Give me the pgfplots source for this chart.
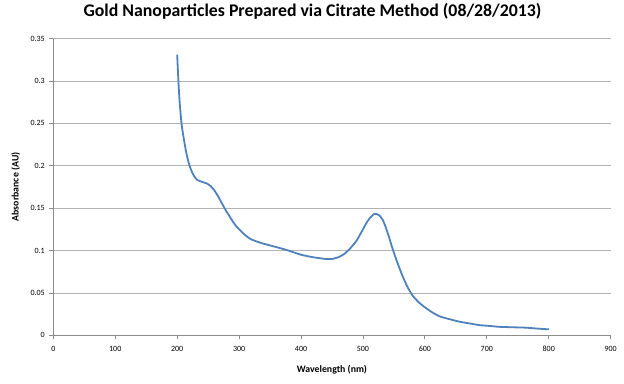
\documentclass[border=0pt]{standalone}
\usepackage{fontspec}
\setmainfont{Carlito}
\usepackage{pgfplots}
\pgfplotsset{compat=1.18}
\definecolor{linecol}{RGB}{79,129,189}
\definecolor{gridcol}{RGB}{178,178,178}
\definecolor{axiscol}{RGB}{140,140,140}
\begin{document}
\begin{tikzpicture}[x=1pt,y=1pt]
\path[use as bounding box] (-53.3,-47.7) rectangle (570.7,335.3);
\begin{axis}[
  at={(0,0)}, anchor=origin,
  scale only axis, width=557.4pt, height=296.8pt,
  xmin=0, xmax=900, ymin=0, ymax=0.35,
  xtick={0,100,...,900},
  ytick={0,0.05,0.1,0.15,0.2,0.25,0.3,0.35},
  yticklabels={0,0.05,0.1,0.15,0.2,0.25,0.3,0.35},
  axis lines*=left,
  axis line style={axiscol, line width=0.8pt, -},
  ymajorgrids, grid style={gridcol, line width=0.7pt},
  tick align=outside, major tick length=4pt,
  tick style={axiscol, line width=0.8pt},
  tick label style={font=\fontsize{8}{9.6}\selectfont},
  xticklabel style={yshift=-3pt},
  yticklabel style={xshift=-1pt},
  /pgf/number format/assume math mode=true,
  scaled ticks=false,
  xlabel={\bfseries Wavelength (nm)},
  ylabel={\bfseries Absorbance (AU)},
  label style={font=\fontsize{9.8}{11}\selectfont},
  xlabel style={at={(axis description cs:0.5,-0.1146)}, anchor=center},
  ylabel style={at={(axis description cs:-0.0673,0.5)}, anchor=center},
  title={\bfseries Gold Nanoparticles Prepared via Citrate Method (08/28/2013)},
  title style={font=\fontsize{17.8}{21}\selectfont, at={(axis description cs:0.4650,1.0724)}, anchor=center},
  clip=false,
]
\addplot[linecol, line width=1.8pt, smooth, tension=0.4] coordinates {
(200,0.331) (202,0.300) (204,0.275) (207,0.250) (210,0.235) (214,0.218)
(218,0.205) (223,0.194) (228,0.187) (233,0.183) (240,0.181) (248,0.179)
(254,0.176) (260,0.171) (266,0.164) (272,0.156) (278,0.148) (284,0.141)
(290,0.134) (296,0.128) (303,0.123) (310,0.118) (320,0.113) (335,0.109)
(350,0.106) (375,0.101) (400,0.095) (420,0.092) (440,0.090) (450,0.090)
(460,0.092) (470,0.096) (480,0.103) (490,0.112) (500,0.125) (506,0.133)
(512,0.139) (518,0.143) (522,0.143) (527,0.141) (532,0.136) (537,0.127)
(542,0.116) (547,0.104) (552,0.093) (558,0.081) (565,0.068) (572,0.057)
(580,0.047) (590,0.039) (600,0.033) (612,0.027) (625,0.022) (640,0.019)
(656,0.016) (672,0.014) (688,0.012) (705,0.011) (720,0.010) (740,0.0095)
(763,0.009) (780,0.008) (800,0.007)
};
\end{axis}
\end{tikzpicture}
\end{document}
